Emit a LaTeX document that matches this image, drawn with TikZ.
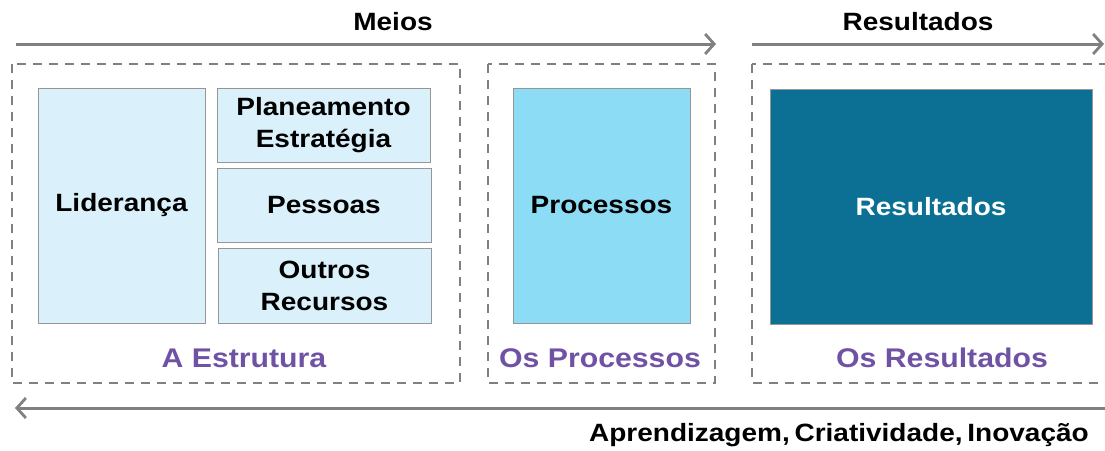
\documentclass[tikz,border=0pt]{standalone}
\usepackage{fontspec}
\setmainfont{Liberation Sans}[FakeStretch=1.12]
\usetikzlibrary{arrows.meta}
\definecolor{lightbox}{RGB}{218,241,251}
\definecolor{procbox}{RGB}{141,220,245}
\definecolor{resbox}{RGB}{11,112,147}
\definecolor{boxborder}{RGB}{150,150,150}
\definecolor{dashgray}{RGB}{128,128,128}
\definecolor{labelpurple}{RGB}{112,82,165}
\tikzset{
  x=1pt, y=-1pt,
  innerbox/.style={draw=boxborder, line width=1pt, inner sep=0pt, align=center,
     font=\fontsize{25}{32}\selectfont\bfseries},
  groupbox/.style={draw=dashgray, line width=2.3pt, dash pattern=on 9pt off 7pt},
  flow/.style={draw=dashgray, line width=3pt,
     -{Straight Barb[length=9pt,width=20pt,line width=2.8pt]}},
  headtxt/.style={font=\fontsize{25}{28}\selectfont\bfseries, inner sep=0pt},
  grouplabel/.style={font=\fontsize{27}{30}\selectfont\bfseries, text=labelpurple, inner sep=0pt}
}
\begin{document}
\begin{tikzpicture}
\useasboundingbox (0,0) rectangle (1105,450);
\clip (0,0) rectangle (1105,450);
% dashed group boxes
\draw[groupbox] (12,64) rectangle (460,383);
\draw[groupbox] (488,64) rectangle (715,383);
\draw[groupbox] (752,64) rectangle (1115,383);
% inner boxes
\node[innerbox, fill=lightbox, minimum width=167pt, minimum height=235pt] (lid) at (121.5,205.5) {Liderança};
\node[innerbox, fill=lightbox, minimum width=213pt, minimum height=74pt] (plan) at (323.5,125) {Planeamento\\Estratégia};
\node[innerbox, fill=lightbox, minimum width=214pt, minimum height=74pt] (pes) at (324,205) {Pessoas};
\node[innerbox, fill=lightbox, minimum width=213pt, minimum height=75pt] (out) at (324.5,285.5) {Outros\\Recursos};
\node[innerbox, fill=procbox, minimum width=177pt, minimum height=235pt] (proc) at (601.5,205.5) {Processos};
\node[innerbox, fill=resbox, text=white, minimum width=322pt, minimum height=235pt] (res) at (931,206.5) {Resultados};
% group labels
\node[grouplabel] (estr) at (244,358) {A Estrutura};
\node[grouplabel] (oproc) at (600,358) {Os Processos};
\node[grouplabel] (ores) at (942,358) {Os Resultados};
% top arrows
\coordinate (m1) at (16,44);
\coordinate (m2) at (716,44);
\coordinate (r1) at (752,44);
\coordinate (r2) at (1104,44);
\draw[flow] (m1) -- (m2);
\draw[flow] (r1) -- (r2);
\node[headtxt] (meios) at (393,22) {Meios};
\node[headtxt] (resh) at (918,22) {Resultados};
% bottom arrow
\coordinate (b1) at (1106,408);
\coordinate (b2) at (15,408);
\draw[flow] (b1) -- (b2);
\node[headtxt, anchor=east] (learn) at (1089,435) {Aprendizagem,\hspace{-3pt} Criatividade,\hspace{-3pt} Inovação};
\end{tikzpicture}
\end{document}
